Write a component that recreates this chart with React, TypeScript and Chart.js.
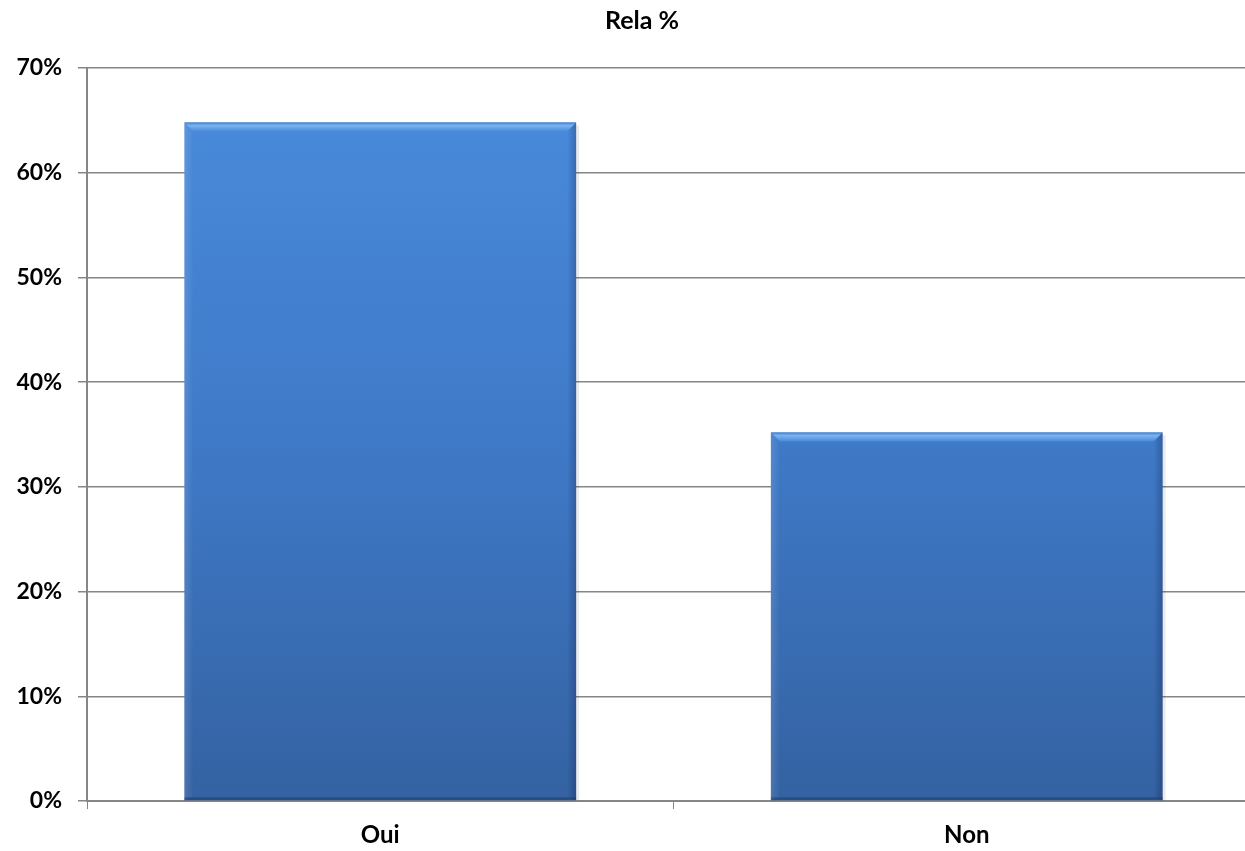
import React, { useEffect, useRef } from "react";
import { Chart, registerables } from "chart.js";

Chart.register(...registerables);

const categories = ["Oui", "Non"];
const values = [64.8, 35.2];
const yTicks = [0, 10, 20, 30, 40, 50, 60, 70];
const titleText = "Rela %";

const titlePlugin = {
  id: "offsetTitle",
  afterDraw(chart: any) {
    const ctx = chart.ctx;
    ctx.save();
    ctx.font = "bold 25px Lato";
    ctx.fillStyle = "#000";
    ctx.textAlign = "center";
    ctx.textBaseline = "middle";
    ctx.fillText(titleText, 642, 21);
    ctx.restore();
  },
};

const bevelPlugin = {
  id: "bevel",
  afterDatasetsDraw(chart: any) {
    const ctx = chart.ctx;
    const meta = chart.getDatasetMeta(0);
    meta.data.forEach((bar: any) => {
      const { x, y, base, width } = bar.getProps(["x", "y", "base", "width"], true);
      const l = x - width / 2;
      const r = x + width / 2;
      const t = y;
      const b = base;
      const bv = 9;
      ctx.save();
      const g = ctx.createLinearGradient(0, t, 0, t + bv);
      g.addColorStop(0, "#3f7fcf");
      g.addColorStop(0.35, "#7ab4f0");
      g.addColorStop(1, "#4a8ad8");
      ctx.fillStyle = g;
      ctx.beginPath();
      ctx.moveTo(l, t);
      ctx.lineTo(r, t);
      ctx.lineTo(r - bv, t + bv);
      ctx.lineTo(l + bv, t + bv);
      ctx.closePath();
      ctx.fill();
      const gl = ctx.createLinearGradient(l, 0, l + bv, 0);
      gl.addColorStop(0, "rgba(255,255,255,0.12)");
      gl.addColorStop(1, "rgba(255,255,255,0)");
      ctx.fillStyle = gl;
      ctx.beginPath();
      ctx.moveTo(l, t);
      ctx.lineTo(l + bv, t + bv);
      ctx.lineTo(l + bv, b - 3);
      ctx.lineTo(l, b);
      ctx.closePath();
      ctx.fill();
      const gr = ctx.createLinearGradient(r - bv, 0, r, 0);
      gr.addColorStop(0, "rgba(0,0,40,0)");
      gr.addColorStop(1, "rgba(0,0,40,0.22)");
      ctx.fillStyle = gr;
      ctx.beginPath();
      ctx.moveTo(r, t);
      ctx.lineTo(r - bv, t + bv);
      ctx.lineTo(r - bv, b - 3);
      ctx.lineTo(r, b);
      ctx.closePath();
      ctx.fill();
      ctx.fillStyle = "rgba(20,40,80,0.35)";
      ctx.fillRect(l, b - 3, width, 3);
      ctx.fillStyle = "rgba(0,0,0,0.08)";
      ctx.fillRect(r, t + 3, 3, b - t - 3);
      ctx.restore();
    });
  },
};

export default function App() {
  const ref = useRef<HTMLCanvasElement>(null);
  useEffect(() => {
    if (!ref.current) return;
    const chart = new Chart(ref.current, {
      type: "bar",
      data: {
        labels: categories,
        datasets: [
          {
            label: titleText,
            data: values,
            backgroundColor: (c: any) => {
              const ca = c.chart.chartArea;
              if (!ca) return "#3f7acb";
              const g = c.chart.ctx.createLinearGradient(0, ca.top, 0, ca.bottom);
              g.addColorStop(0, "#4a8cdc");
              g.addColorStop(0.5, "#3f7ac8");
              g.addColorStop(1, "#3462a2");
              return g;
            },
            borderWidth: 0,
            barPercentage: 0.668,
            categoryPercentage: 1,
          },
        ],
      },
      plugins: [bevelPlugin, titlePlugin],
      options: {
        animation: false,
        responsive: false,
        maintainAspectRatio: false,
        layout: { padding: { left: 0, right: 0, top: 68, bottom: 0 } },
        plugins: {
          legend: { display: false },
          tooltip: { enabled: false },
          title: { display: false },
        },
        scales: {
          x: {
            offset: true,
            grid: {
              display: true,
              offset: true,
              drawOnChartArea: false,
              drawTicks: true,
              tickLength: 8,
              color: "#868686",
              lineWidth: 1,
            },
            border: { display: true, color: "#868686", width: 2 },
            ticks: {
              color: "#000",
              font: { family: "Lato", size: 24, weight: "bold" },
              padding: 12,
            },
            afterFit: (s: any) => {
              s.height = 50;
            },
          },
          y: {
            min: 0,
            max: 70,
            afterBuildTicks: (s: any) => {
              s.ticks = yTicks.map((v) => ({ value: v }));
            },
            grid: {
              color: "#868686",
              lineWidth: 1.5,
              drawTicks: true,
              tickLength: 9,
            },
            border: { display: true, color: "#868686", width: 2 },
            ticks: {
              color: "#000",
              font: { family: "Lato", size: 23, weight: "bold" },
              padding: 16,
              callback: (v: any) => v + "%",
            },
            afterFit: (s: any) => {
              s.width = 87;
            },
          },
        },
      },
    });
    return () => chart.destroy();
  }, []);
  return (
    <div
      style={{
        position: "fixed",
        left: 0,
        top: 0,
        width: 1245,
        height: 851,
        overflow: "hidden",
        background: "#fff",
      }}
    >
      <canvas ref={ref} width={1260} height={851} style={{ display: "block" }} />
    </div>
  );
}
